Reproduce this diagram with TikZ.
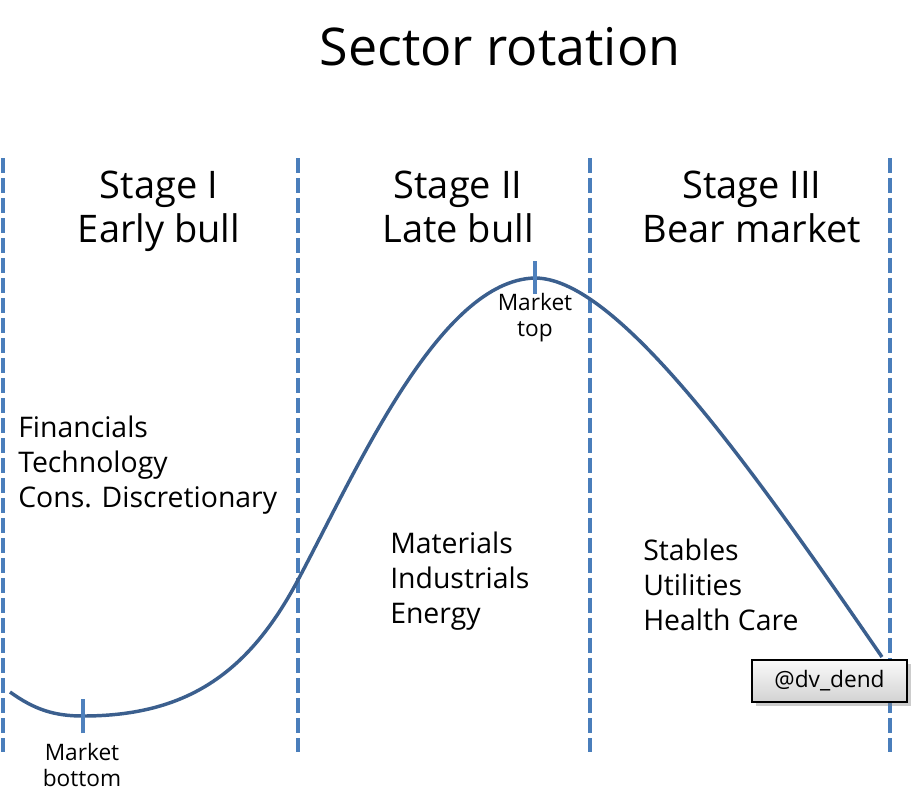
\documentclass[tikz,border=0pt]{standalone}
\usepackage{fontspec}
\setmainfont{Open Sans}
\usepackage{tikz}
\usetikzlibrary{
  positioning,
  shadows,
  calc
}
\definecolor{srDivider}{HTML}{4A7EBB}
\definecolor{srCurve}{HTML}{3B5F8E}
\definecolor{srTick}{HTML}{4F81BD}
\tikzset{
  divider/.style={line width=3.6pt, srDivider, dash pattern=on 11.25pt off 3.75pt},
  curveline/.style={line width=2.6pt, srCurve, line join=round},
  tickmark/.style={line width=3pt, srTick},
  titletext/.style={font=\fontsize{39}{44}\selectfont, inner sep=0pt},
  stagehead/.style={font=\fontsize{28.5}{33}\selectfont, align=center, inner sep=0pt},
  sectorlist/.style={font=\fontsize{21.3}{26}\selectfont, align=left, anchor=west, inner sep=0pt},
  marklabel/.style={font=\fontsize{17}{19.5}\selectfont, align=center, inner sep=0pt},
  handlebox/.style={
    draw=black, line width=1.1pt, top color=gray!4, bottom color=gray!35,
    minimum width=116pt, minimum height=31.5pt, font=\fontsize{17}{20}\selectfont,
    drop shadow={shadow xshift=3pt, shadow yshift=-3pt, opacity=0.4}
  }
}

\begin{document}
\begin{tikzpicture}[x=0.75pt, y=-0.75pt]
  \useasboundingbox (0,0) rectangle (915,808);
  \node[titletext] (title) at (500,47) {Sector rotation};
  % stage borders
  \foreach \xx in {3,298,590,890}{\draw[divider] (\xx,158) -- (\xx,752);}
  \node[stagehead] (stageI) at (159,211) {Stage I\\Early bull};
  \node[stagehead] (stageII) at (458,207) {Stage II\\Late bull};
  \node[stagehead] (stageIII) at (752,207) {Stage III\\Bear market};
  % market cycle
  \coordinate (start) at (10,692);
  \coordinate (bottom) at (83,716);
  \coordinate (cross) at (298,580);
  \coordinate (top) at (535,278);
  \coordinate (finish) at (882,657);
  \draw[curveline] (start) .. controls (35,710) and (55,716) .. (bottom)
    .. controls (190,716) and (250,670) .. (cross)
    .. controls (358,467) and (440,280) .. (top)
    .. controls (620,278) and (760,480) .. (finish);
  \draw[tickmark] ([yshift=-13]bottom) -- ([yshift=13]bottom);
  \draw[tickmark] ([yshift=-12]top) -- ([yshift=13]top);
  \node[marklabel] (botlbl) at (82,765) {Market\\bottom};
  \node[marklabel] (toplbl) at (535,318) {Market\\top};
  % sectors
  \node[sectorlist] (early) at (18,465) {Financials\\Technology\\Cons. Discretionary};
  \node[sectorlist] (late) at (390,581) {Materials\\Industrials\\Energy};
  \node[sectorlist] (bear) at (643,585) {Stables\\Utilities\\Health Care};
  \node[handlebox] (handle) at (829.5,681) {@dv\_dend};
\end{tikzpicture}
\end{document}
